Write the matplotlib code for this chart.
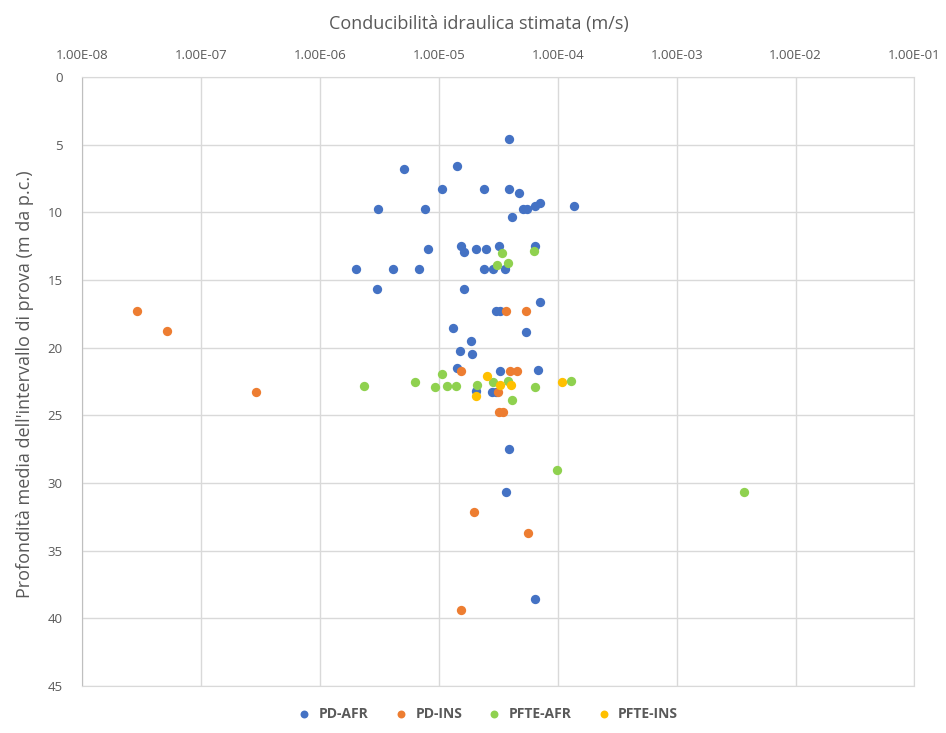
import numpy as np
import matplotlib.pyplot as plt
from matplotlib.ticker import FixedLocator, FuncFormatter

plt.rcParams['font.family'] = ['Open Sans', 'DejaVu Sans']

# PD-AFR
pd_afr_k = [3.9e-5, 5.1e-6, 1.43e-5, 1.07e-5, 2.4e-5, 3.93e-5, 4.73e-5, 3.1e-6, 7.67e-6,
            5.1e-5, 5.5e-5, 6.4e-5, 7.16e-5, 1.36e-4, 4.1e-5, 8.1e-6, 1.55e-5, 1.64e-5,
            2.05e-5, 2.48e-5, 3.2e-5, 6.4e-5, 2.0e-6, 4.1e-6, 6.8e-6, 2.38e-5, 2.83e-5,
            3.6e-5, 3.0e-6, 1.62e-5, 7.1e-5, 3.05e-5, 3.26e-5, 1.31e-5, 5.46e-5, 1.87e-5,
            1.5e-5, 1.9e-5, 1.42e-5, 3.24e-5, 6.8e-5, 2.05e-5, 2.79e-5, 3.03e-5, 3.9e-5,
            3.64e-5, 6.5e-5]
pd_afr_z = [4.58, 6.8, 6.55, 8.28, 8.28, 8.28, 8.57, 9.78, 9.78,
            9.78, 9.78, 9.53, 9.29, 9.53, 10.32, 12.69, 12.47, 12.93,
            12.69, 12.69, 12.47, 12.47, 14.19, 14.19, 14.19, 14.19, 14.19,
            14.19, 15.69, 15.69, 16.65, 17.3, 17.3, 18.52, 18.82, 19.51,
            20.27, 20.5, 21.5, 21.73, 21.66, 23.2, 23.25, 23.25, 27.45,
            30.67, 38.6]

# PD-INS
pd_ins_k = [2.9e-8, 5.2e-8, 2.9e-7, 3.7e-5, 5.4e-5, 1.53e-5, 3.95e-5, 4.58e-5, 3.15e-5,
            3.19e-5, 3.47e-5, 1.96e-5, 5.6e-5, 1.55e-5]
pd_ins_z = [17.32, 18.8, 23.28, 17.3, 17.3, 21.75, 21.75, 21.75, 23.25,
            24.76, 24.76, 32.15, 33.68, 39.35]

# PFTE-AFR
pfte_afr_k = [3.4e-5, 3.09e-5, 3.8e-5, 6.3e-5, 2.33e-6, 6.3e-6, 9.25e-6, 1.07e-5, 1.17e-5,
              1.39e-5, 2.1e-5, 2.83e-5, 3.85e-5, 4.13e-5, 6.45e-5, 1.29e-4, 9.9e-5, 3.7e-3]
pfte_afr_z = [13.03, 13.9, 13.77, 12.84, 22.86, 22.54, 22.94, 21.95, 22.86,
              22.8, 22.76, 22.54, 22.45, 23.87, 22.94, 22.49, 29.0, 30.64]

# PFTE-INS
pfte_ins_k = [2.07e-5, 2.55e-5, 3.26e-5, 4.08e-5, 1.09e-4]
pfte_ins_z = [23.58, 22.1, 22.78, 22.78, 22.54]

xticks = [1e-8, 1e-7, 1e-6, 1e-5, 1e-4, 1e-3, 1e-2, 1e-1]
yticks = [0, 5, 10, 15, 20, 25, 30, 35, 40, 45]

fig = plt.figure(figsize=(9.46, 7.33), dpi=100)
ax = fig.add_axes([0.0867, 0.064, 0.880, 0.831])

txt = '#595959'
grid = '#d9d9d9'
s = 45
ax.scatter(pd_afr_k, pd_afr_z, s=s, color='#4472C4', label='PD-AFR', zorder=3, linewidths=0)
ax.scatter(pd_ins_k, pd_ins_z, s=s, color='#ED7D31', label='PD-INS', zorder=3, linewidths=0)
ax.scatter(pfte_afr_k, pfte_afr_z, s=s, color='#8FD14F', label='PFTE-AFR', zorder=3, linewidths=0)
ax.scatter(pfte_ins_k, pfte_ins_z, s=s, color='#FFC000', label='PFTE-INS', zorder=3, linewidths=0)

ax.set_xscale('log')
ax.set_xlim(1e-8, 1e-1)
ax.set_ylim(45, 0)
ax.xaxis.set_major_locator(FixedLocator(xticks))
ax.xaxis.set_minor_locator(FixedLocator([]))
ax.xaxis.set_major_formatter(FuncFormatter(lambda v, p: f"{v:.2E}"))
ax.set_yticks(yticks)
ax.xaxis.tick_top()
ax.xaxis.set_label_position('top')
ax.tick_params(axis='both', length=0, colors=txt, labelsize=9.5)
ax.tick_params(axis='x', pad=11)
ax.tick_params(axis='y', pad=14)

ax.grid(True, color=grid, linewidth=1)
ax.set_axisbelow(True)
for side in ['top', 'right', 'bottom']:
    ax.spines[side].set_color(grid)
ax.spines['left'].set_color('#bfbfbf')

ax.set_xlabel('Conducibilità idraulica stimata (m/s)', fontsize=13, color=txt)
ax.xaxis.set_label_coords(0.477, 1.079)
ax.set_ylabel("Profondità media dell'intervallo di prova (m da p.c.)", fontsize=13, color=txt)
ax.yaxis.set_label_coords(-0.058, 0.495)

fig.legend(loc='lower center', bbox_to_anchor=(0.512, 0.0), ncol=4, frameon=False,
           prop={'size': 10, 'weight': 'bold'}, labelcolor=txt, handletextpad=0.05,
           columnspacing=1.3, markerscale=0.85)

plt.savefig('out.png', dpi=100)
